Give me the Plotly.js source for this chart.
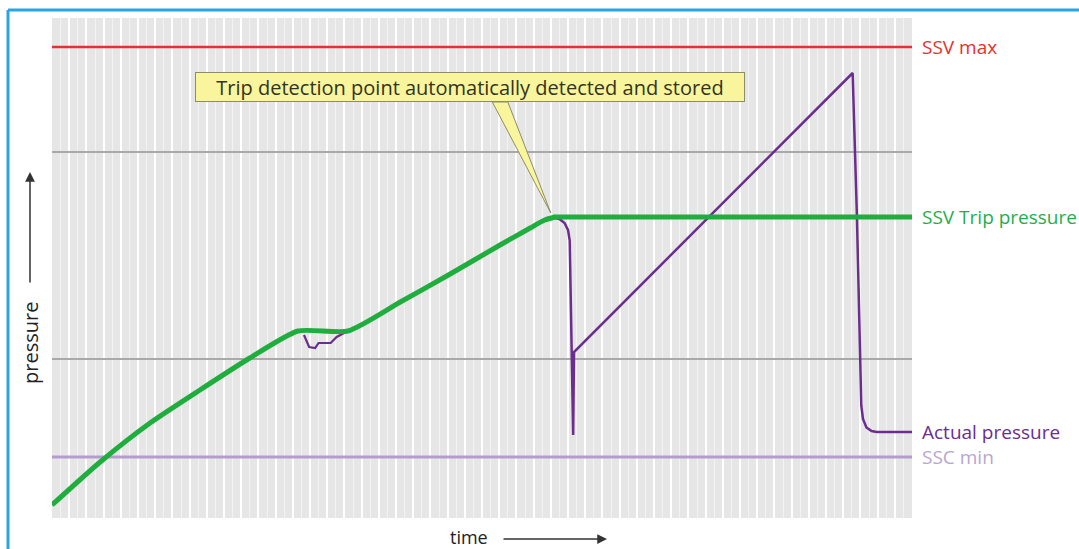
<!DOCTYPE html>
<html>
<head>
<meta charset="utf-8">
<script src="https://cdn.plot.ly/plotly-3.0.1.min.js"></script>
<style>
html,body{margin:0;padding:0;background:#fff;}
#chart{width:1079px;height:549px;}
</style>
</head>
<body>
<div id="chart"></div>
<script>
// ---- data (time in % of window, pressure in % of scale) ----
const greenTime     = [0, 5.6, 11.4, 17.2, 23.0, 28.6, 34.4, 40.5, 46.3, 52.1, 55.6, 57.3, 58.5];
const greenPressure = [2.6, 11.2, 19.0, 25.6, 32.0, 37.4, 37.4, 43.2, 48.8, 54.6, 58.0, 59.6, 60.2];

const tripTime = [58.3, 100];

const actualTime     = [58.1, 59.0, 59.6, 60.0, 60.2, 60.6, 60.7, 93.1, 93.6, 94.1, 94.3, 94.7, 95.3, 95.9, 100];
const actualPressure = [60.2, 59.8, 59.0, 57.6, 55.5, 16.6, 33.2, 89.0, 60.0, 22.5, 19.8, 18.1, 17.4, 17.2, 17.2];

const dipTime     = [29.3, 29.9, 30.6, 31.0, 32.4, 33.1, 34.4];
const dipPressure = [36.6, 34.2, 34.0, 35.0, 35.0, 36.2, 37.4];

const ssvMax = 94.2;
const ssvTrip = 60.2;
const sscMin = 12.2;
const greyLevels = [31.8, 73.2];
const levelLabels = ['SSV max', 'SSV Trip pressure', 'Actual pressure', 'SSC min'];
const levelValues = [ssvMax, ssvTrip, 17.2, sscMin];
const levelColors = ['#e5312f', '#1fae4a', '#6b2d8f', '#b8a6d2'];
const calloutText = 'Trip detection point automatically detected and stored';
const xLabel = 'time';
const yLabel = 'pressure';

const FONT = 'Open Sans, Noto Sans, sans-serif';

const traces = [
  {x:[0,100], y:[sscMin,sscMin], mode:'lines', line:{color:'#b49ccf', width:3}, hoverinfo:'skip'},
  {x:[0,100], y:[ssvMax,ssvMax], mode:'lines', line:{color:'#e5312f', width:2.5}, hoverinfo:'skip'},
  {x:dipTime, y:dipPressure, mode:'lines', line:{color:'#6b2d8f', width:2.2}, hoverinfo:'skip'},
  {x:actualTime, y:actualPressure, mode:'lines', line:{color:'#6b2d8f', width:2.5}, hoverinfo:'skip'},
  {x:tripTime, y:[ssvTrip, ssvTrip], mode:'lines', line:{color:'#1fae3e', width:5}, hoverinfo:'skip'},
  {x:greenTime, y:greenPressure, mode:'lines', line:{color:'#1fae3e', width:5, shape:'spline', smoothing:0.6}, hoverinfo:'skip'}
];

const annotations = levelLabels.map((t,i)=>({
  xref:'paper', yref:'y', x:1.0093, y:levelValues[i], xanchor:'left', yanchor:'middle',
  text:t, showarrow:false, font:{family:FONT, size:19, color:levelColors[i]}
}));
annotations.push({
  xref:'x', yref:'y', x:48.6, y:86.2, xanchor:'center', yanchor:'middle',
  text:calloutText, showarrow:false, bgcolor:'#f8f59c', bordercolor:'#8c8c6a', borderwidth:1,
  width:546, height:26, font:{family:FONT, size:20, color:'#33331f'}
});
annotations.push({
  xref:'paper', yref:'paper', x:0.485, y:(518-537)/500, xanchor:'center', yanchor:'middle',
  text:xLabel, showarrow:false, font:{family:FONT, size:18, color:'#222'}
});
annotations.push({
  xref:'paper', yref:'paper', x:-0.0256, y:0.35, xanchor:'center', yanchor:'middle',
  text:yLabel, textangle:-90, showarrow:false, font:{family:FONT, size:20, color:'#222'}
});
// arrows
annotations.push({
  xref:'paper', yref:'paper', x:(607-52)/860, y:(518-539)/500, text:'', showarrow:true,
  ax:-105, ay:0, arrowhead:2, arrowsize:1.3, arrowwidth:1.5, arrowcolor:'#333'
});
annotations.push({
  xref:'paper', yref:'paper', x:(30-52)/860, y:(518-172)/500, text:'', showarrow:true,
  ax:0, ay:112, arrowhead:2, arrowsize:1.3, arrowwidth:1.5, arrowcolor:'#333'
});

const shapes = [
  // callout pointer
  {type:'path', xref:'x', yref:'y', layer:'above',
   path:'M 51.2 83.2 L 53.0 83.2 L 58.0 61.0 Z',
   fillcolor:'#f8f59c', line:{color:'#8c8c6a', width:1}},
  // frame border (top & left)
  {type:'line', xref:'paper', yref:'paper', x0:(8-52)/860, x1:1.2, y0:(518-10)/500, y1:(518-10)/500,
   line:{color:'#2aa6df', width:3}},
  {type:'line', xref:'paper', yref:'paper', x0:(8-52)/860, x1:(8-52)/860, y0:(518-10)/500, y1:-0.2,
   line:{color:'#2aa6df', width:3}}
];

const layout = {
  width:1079, height:549,
  margin:{l:52, r:167, t:18, b:31},
  paper_bgcolor:'#ffffff', plot_bgcolor:'#e6e6e6',
  showlegend:false,
  xaxis:{range:[0,100], dtick:2, showgrid:true, gridcolor:'#ffffff', gridwidth:2,
         minor:{dtick:1, showgrid:true, gridcolor:'#f3f3f3', gridwidth:1},
         showticklabels:false, ticks:'', zeroline:false, showline:false, fixedrange:true},
  yaxis:{range:[0,100], tickmode:'array', tickvals:greyLevels, showgrid:true, gridcolor:'#a9a9a9', gridwidth:2,
         showticklabels:false, ticks:'', zeroline:false, showline:false, fixedrange:true},
  annotations:annotations,
  shapes:shapes
};

Plotly.newPlot('chart', traces, layout, {displayModeBar:false, staticPlot:true});
</script>
</body>
</html>
